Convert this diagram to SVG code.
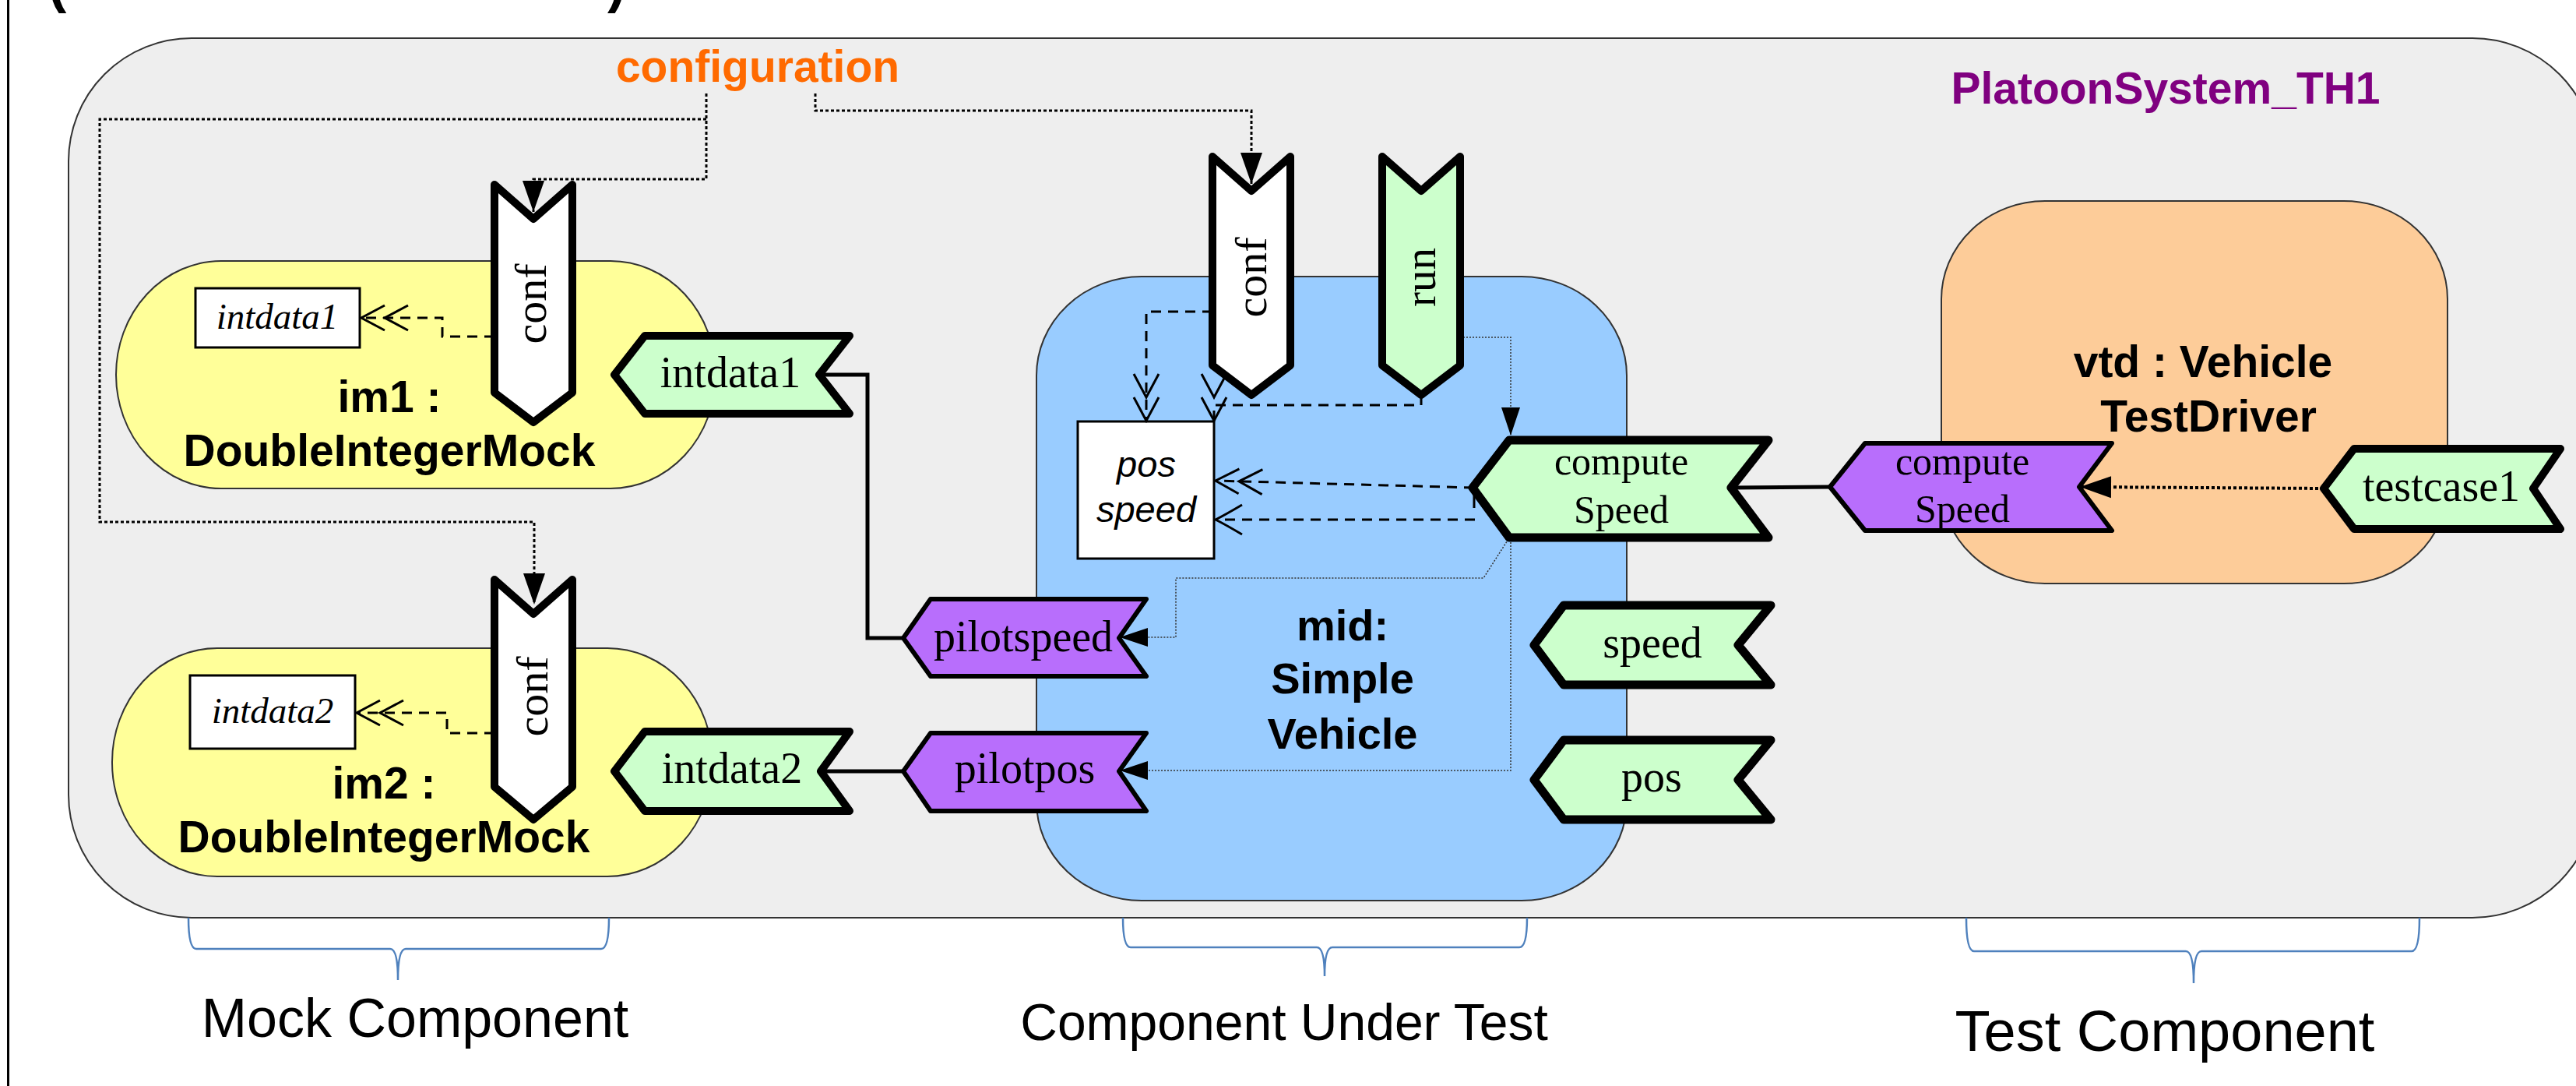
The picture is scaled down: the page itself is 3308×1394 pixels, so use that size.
<svg xmlns="http://www.w3.org/2000/svg" width="3308" height="1394" viewBox="0 0 3308 1394">
<style>
.port{stroke:#000;stroke-linejoin:round}
.pw{fill:#ffffff;stroke-width:10}
.pg{fill:#ccffcc;stroke-width:10}
.pg2{fill:#ccffcc;stroke-width:11}
.pp{fill:#b86efc;stroke-width:6}
.serif{font-family:"Liberation Serif","Times New Roman",serif;font-size:56px;fill:#000;text-anchor:middle}
.cs{font-size:50px}
.ital{font-family:"Liberation Serif","Times New Roman",serif;font-style:italic;font-size:47px;text-anchor:middle}
.bold{font-family:"Liberation Sans",Arial,sans-serif;font-weight:bold;font-size:57px;text-anchor:middle;fill:#000}
.cap{font-family:"Liberation Sans",Arial,sans-serif;text-anchor:middle;fill:#000}
.brace{fill:none;stroke:#4f81bd;stroke-width:2.5}
.dot{fill:none;stroke:#000;stroke-width:3;stroke-dasharray:4 3}
.dash{fill:none;stroke:#000;stroke-width:3;stroke-dasharray:13 9}
.thin{fill:none;stroke:#333;stroke-width:1.5;stroke-dasharray:2 2}
.solid{fill:none;stroke:#000;stroke-width:5}
</style>
<defs>
<marker id="dbl" markerUnits="userSpaceOnUse" viewBox="-64 -20 68 40" markerWidth="68" markerHeight="40" refX="0" refY="0" orient="auto" overflow="visible">
<path d="M-30,-16 L0,0 L-30,16 M-60,-16 L-30,0 L-60,16" fill="none" stroke="#000" stroke-width="3"/>
</marker>
<marker id="sgl" markerUnits="userSpaceOnUse" viewBox="-40 -22 44 44" markerWidth="44" markerHeight="44" refX="0" refY="0" orient="auto" overflow="visible">
<path d="M-34,-19 Q-12,-6 0,0 Q-12,6 -34,19" fill="none" stroke="#000" stroke-width="3"/>
</marker>
<marker id="tri" markerUnits="userSpaceOnUse" viewBox="-44 -16 46 32" markerWidth="46" markerHeight="32" refX="0" refY="0" orient="auto" overflow="visible">
<path d="M-40,-14 L0,0 L-40,14 Z" fill="#000"/>
</marker>
<marker id="tris" markerUnits="userSpaceOnUse" viewBox="-40 -14 42 28" markerWidth="42" markerHeight="28" refX="0" refY="0" orient="auto" overflow="visible">
<path d="M-36,-12 L0,0 L-36,12 Z" fill="#000"/>
</marker>
</defs>
<rect x="0" y="0" width="3308" height="1394" fill="#ffffff"/>
<line x1="10.5" y1="0" x2="10.5" y2="1394" stroke="#000" stroke-width="3"/>
<text x="62" y="2" font-family="Liberation Sans, Arial, sans-serif" font-weight="bold" font-size="70">(</text>
<text x="780" y="2" font-family="Liberation Sans, Arial, sans-serif" font-weight="bold" font-size="70">)</text>

<g id="PlatoonSystem_TH1">
<rect x="88" y="49" width="3245" height="1129" rx="158" ry="158" fill="#eeeeee" stroke="#333" stroke-width="2"/>
<text class="bold" x="2781" y="133" fill="#800080" style="fill:#800080">PlatoonSystem_TH1</text>
<text class="bold" x="973" y="105" style="fill:#ff6a00">configuration</text>
</g>

<g id="im1">
<rect x="149" y="335" width="770" height="292" rx="135" ry="146" fill="#ffff99" stroke="#333" stroke-width="2"/>
<rect x="251" y="370" width="211" height="76" fill="#fff" stroke="#000" stroke-width="3"/>
<text class="ital" x="356" y="422">intdata1</text>
<text class="bold" x="500" y="529">im1 :</text>
<text class="bold" x="500" y="598">DoubleIntegerMock</text>
</g>

<g id="im2">
<rect x="144" y="832" width="771" height="293" rx="135" ry="146" fill="#ffff99" stroke="#333" stroke-width="2"/>
<rect x="244" y="867" width="212" height="94" fill="#fff" stroke="#000" stroke-width="3"/>
<text class="ital" x="350" y="928">intdata2</text>
<text class="bold" x="493" y="1025">im2 :</text>
<text class="bold" x="493" y="1094">DoubleIntegerMock</text>
</g>

<g id="mid">
<rect x="1331" y="355" width="758" height="801" rx="135" ry="127" fill="#99ccff" stroke="#333" stroke-width="2"/>
<rect x="1384" y="541" width="175" height="176" fill="#fff" stroke="#000" stroke-width="3"/>
<text x="1472" y="612" font-family="Liberation Sans, Arial, sans-serif" font-style="italic" font-size="47" text-anchor="middle">pos</text>
<text x="1472" y="670" font-family="Liberation Sans, Arial, sans-serif" font-style="italic" font-size="47" text-anchor="middle">speed</text>
<text class="bold" x="1724" y="822" style="font-size:56px">mid:</text>
<text class="bold" x="1724" y="890" style="font-size:56px">Simple</text>
<text class="bold" x="1724" y="961" style="font-size:56px">Vehicle</text>
</g>

<g id="vtd">
<rect x="2493" y="258" width="650" height="491" rx="133" ry="126" fill="#fdcc99" stroke="#333" stroke-width="2"/>
<text class="bold" x="2829" y="484">vtd : Vehicle</text>
<text class="bold" x="2836" y="554">TestDriver</text>
</g>

<g id="connectors">
<path class="dot" d="M907,120 V230 H685 V272" marker-end="url(#tri)"/>
<path class="dot" d="M907,153 H128 V670 H686 V776" marker-end="url(#tri)"/>
<path class="dot" d="M1047,120 V142 H1607 V236" marker-end="url(#tri)"/>
<path class="dash" d="M635,432 H568 V408 H464" marker-end="url(#dbl)"/>
<path class="dash" d="M635,941 H574 V915 H458" marker-end="url(#dbl)"/>
<path class="dash" d="M1557,400 H1472 V540" marker-end="url(#dbl)"/>
<path class="dash" d="M1825,507 V520 H1559 V540" marker-end="url(#dbl)"/>
<path class="dash" d="M1893,626 L1561,617" marker-end="url(#dbl)"/>
<line x1="1893" y1="626" x2="1893" y2="652" stroke="#000" stroke-width="3"/>
<path class="dash" d="M1894,667 H1561" marker-end="url(#sgl)"/>
<path class="thin" d="M1879,433 H1940 V559" marker-end="url(#tris)"/>
<path class="thin" d="M1937,692 L1905,742 H1510 V818 H1438" marker-end="url(#tris)"/>
<path class="thin" d="M1940,692 V989 H1438" marker-end="url(#tris)"/>
<path class="solid" d="M1052,481 H1114 V819 H1160"/>
<path class="solid" d="M1160,990 H1054"/>
<path class="solid" d="M2223,626 L2350,625"/>
<path class="dot" style="stroke-width:4" d="M2984,627 L2671,625" marker-end="url(#tri)"/>
</g>

<g id="im1.conf">
<path class="port pw" d="M635,237 L685,281 L735,237 V504 L685,542 L635,504 Z"/>
<text class="serif" transform="translate(701,390) rotate(-90)" style="font-size:58px">conf</text>
</g>
<g id="im1.intdata1">
<path class="port pg" d="M789,481 L828,431 H1091 L1052,481 L1091,531 H828 Z"/>
<text class="serif" x="938" y="497">intdata1</text>
</g>
<g id="im2.conf">
<path class="port pw" d="M635,744 L685,788 L735,744 V1010 L685,1052 L635,1010 Z"/>
<text class="serif" transform="translate(703,894) rotate(-90)" style="font-size:58px">conf</text>
</g>
<g id="im2.intdata2">
<path class="port pg" d="M789,990 L828,939 H1091 L1054,990 L1091,1041 H828 Z"/>
<text class="serif" x="940" y="1005">intdata2</text>
</g>
<g id="mid.conf">
<path class="port pw" d="M1557,201 L1607,245 L1657,201 V469 L1607,507 L1557,469 Z"/>
<text class="serif" transform="translate(1626,356) rotate(-90)" style="font-size:58px">conf</text>
</g>
<g id="mid.run">
<path class="port pg" d="M1775,201 L1825,245 L1875,201 V469 L1825,507 L1775,469 Z"/>
<text class="serif" transform="translate(1843,356) rotate(-90)" style="font-size:57px">run</text>
</g>
<g id="mid.computeSpeed">
<path class="port pg2" d="M1891,626 L1938,565 H2271 L2223,626 L2271,690 H1938 Z"/>
<text class="serif cs" x="2082" y="609">compute</text>
<text class="serif cs" x="2082" y="671">Speed</text>
</g>
<g id="mid.pilotspeed">
<path class="port pp" d="M1160,819 L1195,769 H1472 L1437,819 L1472,868 H1195 Z"/>
<text class="serif" x="1314" y="836">pilotspeed</text>
</g>
<g id="mid.pilotpos">
<path class="port pp" d="M1160,990 L1195,941 H1472 L1437,990 L1472,1041 H1195 Z"/>
<text class="serif" x="1316" y="1005">pilotpos</text>
</g>
<g id="mid.speed">
<path class="port pg2" d="M1970,828 L2008,777 H2274 L2232,828 L2274,879 H2008 Z"/>
<text class="serif" x="2122" y="844">speed</text>
</g>
<g id="mid.pos">
<path class="port pg2" d="M1970,1001 L2008,950 H2274 L2232,1001 L2274,1052 H2008 Z"/>
<text class="serif" x="2121" y="1016">pos</text>
</g>
<g id="vtd.computeSpeed">
<path class="port pp" d="M2350,625 L2395,569 H2712 L2670,625 L2712,681 H2395 Z"/>
<text class="serif cs" x="2520" y="609">compute</text>
<text class="serif cs" x="2520" y="670">Speed</text>
</g>
<g id="vtd.testcase1">
<path class="port pg" d="M2984,627 L3023,576 H3288 L3253,627 L3288,679 H3023 Z"/>
<text class="serif" x="3135" y="643">testcase1</text>
</g>

<g id="mock-label">
<path class="brace" d="M242,1178 Q242,1218 252,1218 H501 Q511,1218 511,1258 Q511,1218 521,1218 H772 Q782,1218 782,1178"/>
<text class="cap" x="533" y="1331" font-size="70">Mock Component</text>
</g>
<g id="cut-label">
<path class="brace" d="M1442,1178 Q1442,1216 1452,1216 H1691 Q1701,1216 1701,1253 Q1701,1216 1711,1216 H1951 Q1961,1216 1961,1178"/>
<text class="cap" x="1649" y="1335" font-size="66">Component Under Test</text>
</g>
<g id="test-label">
<path class="brace" d="M2525,1178 Q2525,1221 2535,1221 H2807 Q2817,1221 2817,1262 Q2817,1221 2827,1221 H3097 Q3107,1221 3107,1178"/>
<text class="cap" x="2780" y="1349" font-size="74">Test Component</text>
</g>
</svg>
